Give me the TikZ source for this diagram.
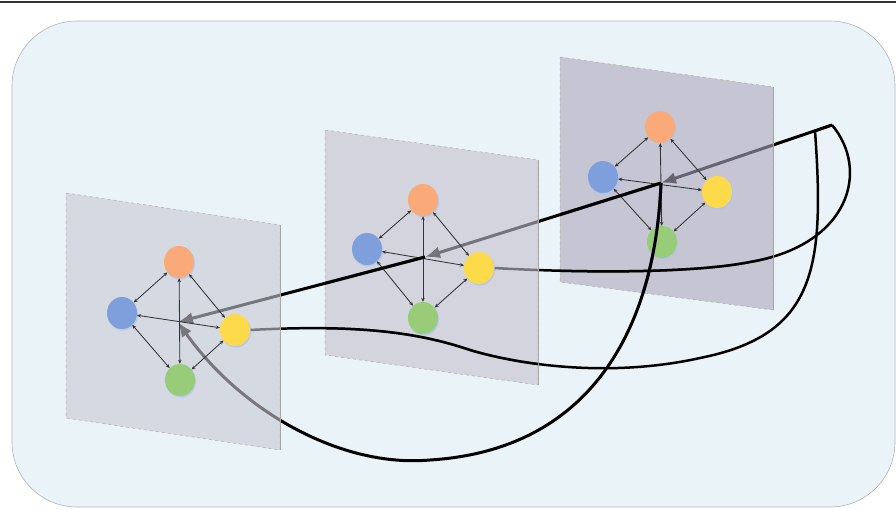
\documentclass[tikz,border=0pt]{standalone}
\usetikzlibrary{arrows.meta,shapes.geometric,shadows}
\definecolor{bgc}{RGB}{234,244,248}
\definecolor{plA}{RGB}{200,199,211}
\definecolor{plB}{RGB}{196,192,206}
\definecolor{plC}{RGB}{174,166,188}
\definecolor{cor}{RGB}{249,170,120}
\definecolor{cbl}{RGB}{126,158,220}
\definecolor{cye}{RGB}{253,218,74}
\definecolor{cgr}{RGB}{152,204,120}
\definecolor{halo}{RGB}{172,196,236}
\pgfdeclarelayer{bg}
\pgfdeclarelayer{lines}
\pgfdeclarelayer{planes}
\pgfdeclarelayer{top}
\pgfsetlayers{bg,lines,planes,main,top}
\begin{document}
\begin{tikzpicture}[x=1pt,y=-1pt,
  plane/.style={fill opacity=0.6, draw=gray!65, dashed, line width=0.5pt},
  planeedge/.style={draw=gray!70, line width=1pt},
  conn/.style={line width=3pt, draw=black},
  curv/.style={line width=2.5pt, draw=black},
  tipbig/.style={-{Latex[length=15pt,width=12pt]}},
  small/.style={{Stealth[length=4pt,width=3.5pt]}-{Stealth[length=4pt,width=3.5pt]}, line width=0.85pt, draw=black!80},
  dot/.style={ellipse, minimum width=30pt, minimum height=32pt, inner sep=0pt,
    drop shadow={shadow xshift=1pt, shadow yshift=-1.5pt, fill=halo, opacity=0.7}},
  pA/.style={insert path={(P) -- (C3)}},
  pB/.style={insert path={(C3) -- (C2)}},
  pC/.style={insert path={(C2) -- (C1)}},
  pD/.style={insert path={(P) .. controls (870,170) and (850,245) .. (750,262) .. controls (700,272) and (600,274) .. (y2.east)}},
  pE/.style={insert path={(P) -- (Q) .. controls (825,270) and (815,335) .. (700,358) .. controls (610,378) and (520,365) .. (470,350) .. controls (420,333) and (360,324) .. (y1.east)}},
  pF/.style={insert path={(C3) .. controls (655,330) and (590,450) .. (430,460) .. controls (340,468) and (240,410) .. (C1)}},
]
\useasboundingbox (0,0) rectangle (896,509);

% background
\begin{pgfonlayer}{bg}
  \fill[white] (0,0) rectangle (896,509);
  \draw[line width=1.5pt, black!80] (0,2) -- (896,2);
  \draw[fill=bgc, draw=gray!60, line width=0.6pt, rounded corners=65pt] (12,21) rectangle (895,507);
\end{pgfonlayer}

% plane corners
\coordinate (a1) at (66,193); \coordinate (a2) at (280,225); \coordinate (a3) at (280,450); \coordinate (a4) at (66,418);
\coordinate (b1) at (325,130); \coordinate (b2) at (538,160); \coordinate (b3) at (538,385); \coordinate (b4) at (325,355);
\coordinate (c1) at (560,57); \coordinate (c2) at (773,87); \coordinate (c3) at (773,310); \coordinate (c4) at (560,282);

% centers and hub
\coordinate (C1) at (178,322);
\coordinate (C2) at (425,257);
\coordinate (C3) at (661,183);
\coordinate (P) at (832,125);
\coordinate (Q) at (815,131);

% nodes, plane 1
\node[dot, fill=cor] (o1) at (179,262) {};
\node[dot, fill=cbl] (bl1) at (122,313) {};
\node[dot, fill=cye] (y1) at (235,330) {};
\node[dot, fill=cgr] (g1) at (180,380) {};
% plane 2
\node[dot, fill=cor] (o2) at (423,200) {};
\node[dot, fill=cbl] (bl2) at (367,249) {};
\node[dot, fill=cye] (y2) at (479,268) {};
\node[dot, fill=cgr] (g2) at (423,318) {};
% plane 3
\node[dot, fill=cor] (o3) at (660,127) {};
\node[dot, fill=cbl] (bl3) at (603,177) {};
\node[dot, fill=cye] (y3) at (717,192) {};
\node[dot, fill=cgr] (g3) at (662,242) {};

\foreach \k in {1,2,3}{
  \draw[small] (o\k) -- (bl\k);
  \draw[small] (o\k) -- (y\k);
  \draw[small] (o\k) -- (g\k);
  \draw[small] (bl\k) -- (y\k);
  \draw[small] (bl\k) -- (g\k);
  \draw[small] (y\k) -- (g\k);
}

% connectors (full, beneath planes)
\begin{pgfonlayer}{lines}
  \draw[conn, tipbig, pA];
  \draw[conn, tipbig, pB];
  \draw[conn, tipbig, pC];
  \draw[curv, pD];
  \draw[curv, pE];
  \draw[conn, tipbig, pF];
\end{pgfonlayer}

% planes
\begin{pgfonlayer}{planes}
  \draw[plane, fill=plA] (a1) -- (a2) -- (a3) -- (a4) -- cycle;
  \draw[planeedge] (a2) -- (a3);
  \draw[plane, fill=plB] (b1) -- (b2) -- (b3) -- (b4) -- cycle;
  \draw[planeedge] (b2) -- (b3);
  \draw[plane, fill=plC] (c1) -- (c2) -- (c3) -- (c4) -- cycle;
  \draw[planeedge] (c2) -- (c3);
\end{pgfonlayer}

% parts of connectors lying on top of planes
\begin{pgfonlayer}{top}
  \begin{scope}
    \clip (c1) -- (c2) -- (c3) -- (c4) -- cycle;
    \draw[conn, pB];
    \draw[curv, pD];
    \draw[conn, pF];
  \end{scope}
  \begin{scope}
    \clip (b1) -- (b2) -- (b3) -- (b4) -- cycle;
    \draw[conn, pC];
    \draw[curv, pE];
  \end{scope}
\end{pgfonlayer}
\end{tikzpicture}
\end{document}
